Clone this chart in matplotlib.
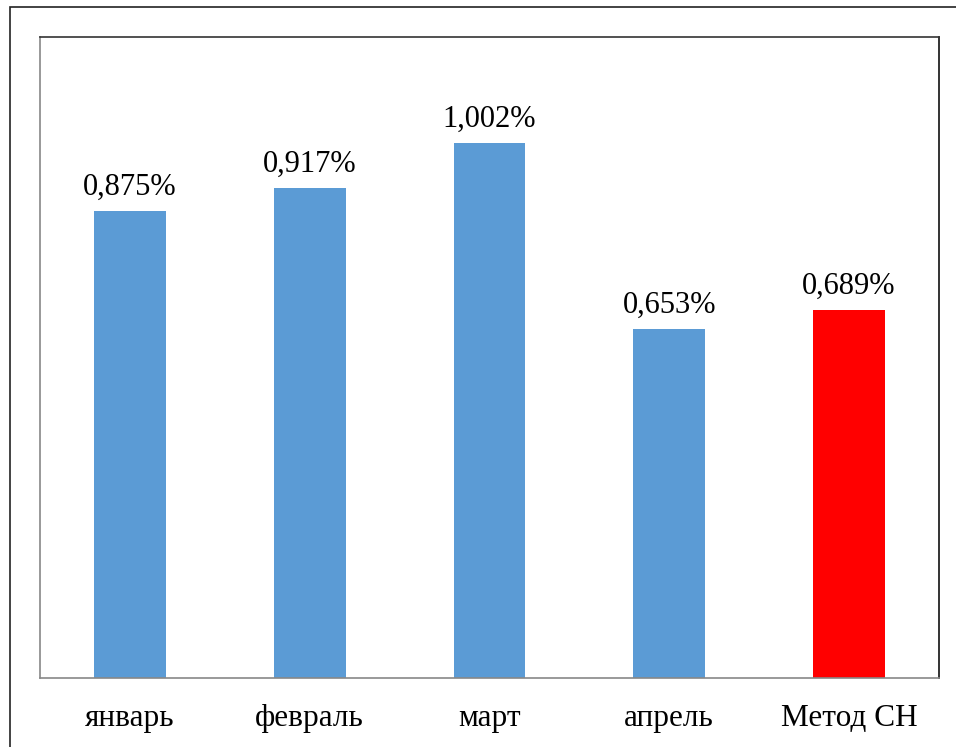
import matplotlib.pyplot as plt
import matplotlib.patches as patches

categories = ['январь', 'февраль', 'март', 'апрель', 'Метод СН']
values = [0.875, 0.917, 1.002, 0.653, 0.689]
labels = ['0,875%', '0,917%', '1,002%', '0,653%', '0,689%']
colors = ['#5b9bd5', '#5b9bd5', '#5b9bd5', '#5b9bd5', '#ff0000']

plt.rcParams['font.family'] = ['Liberation Serif', 'DejaVu Serif']

fig = plt.figure(figsize=(9.56, 7.47), dpi=100)
ax = fig.add_axes([40 / 956, 69 / 747, 899 / 956, 641 / 747])

# outer frame of the chart area (right and bottom run off the image)
frame = patches.Rectangle((10 / 956, -0.05), 1.0, 1 - 7 / 747 + 0.05,
                          transform=fig.transFigure, fill=False,
                          ec='#222222', lw=1.2, clip_on=False)
fig.add_artist(frame)

x = range(len(categories))
bars = ax.bar(x, values, width=0.4, color=colors)

for xi, v, lab in zip(x, values, labels):
    ax.annotate(lab, (xi, v), xytext=(0, 6.5), textcoords='offset points',
                ha='center', va='bottom', fontsize=22)

ax.set_xlim(-0.5, len(categories) - 0.5)
ax.set_ylim(0, 1.2)
ax.set_xticks(list(x))
ax.set_xticklabels(categories, fontsize=22.5)
ax.tick_params(axis='x', length=0, pad=19)
ax.set_yticks([])

ax.spines['left'].set_color('#888888')
ax.spines['bottom'].set_color('#888888')
ax.spines['top'].set_color('#333333')
ax.spines['right'].set_color('#111111')
for s in ax.spines.values():
    s.set_linewidth(1.2)

plt.savefig('out.png', dpi=100)
plt.close()
